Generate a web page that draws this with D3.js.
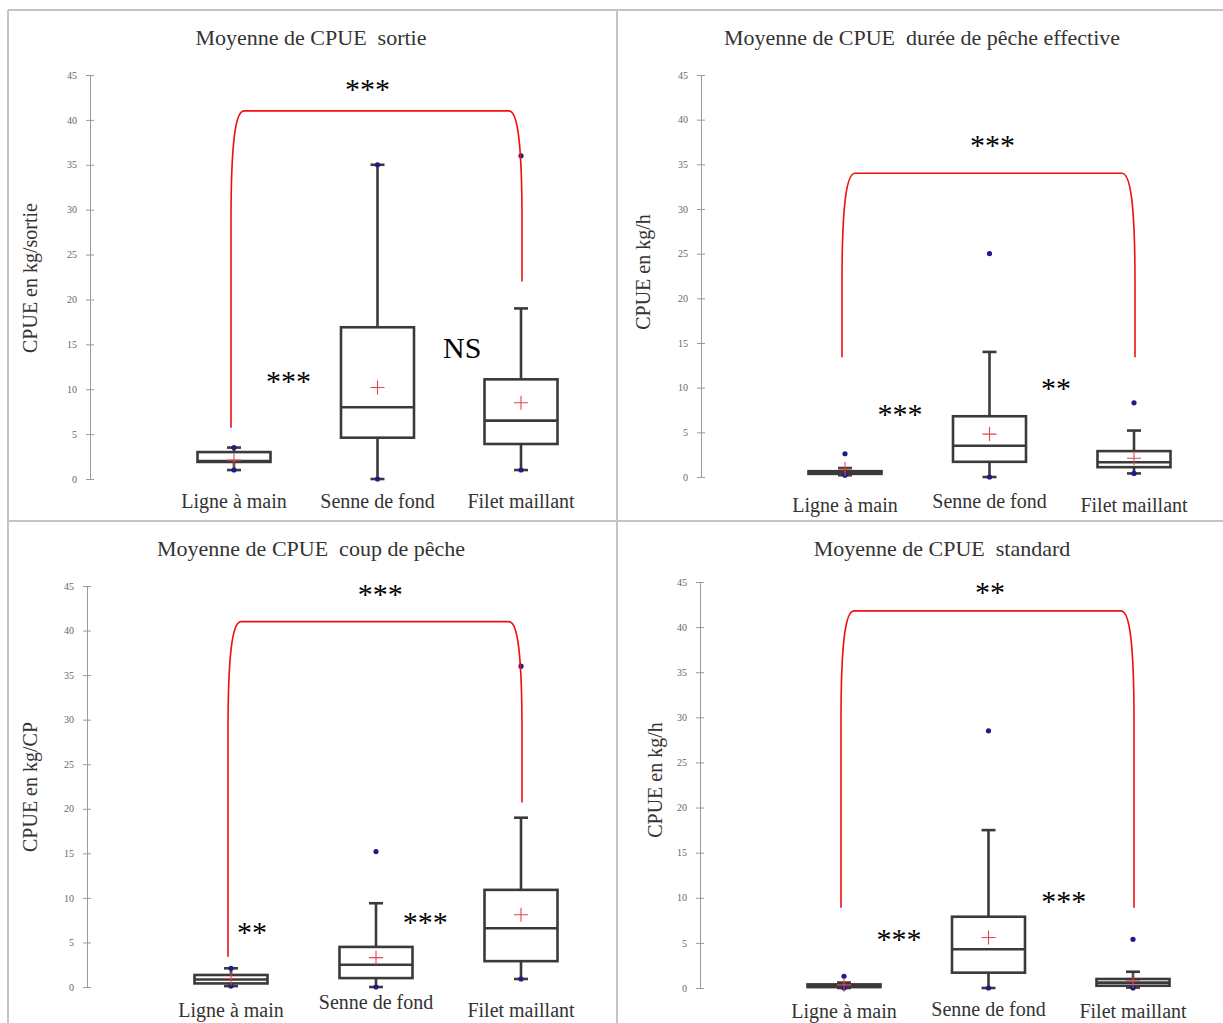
<!DOCTYPE html>
<html>
<head>
<meta charset="utf-8">
<script src="https://cdn.jsdelivr.net/npm/d3@7"></script>
<style>
  body { margin: 0; background: #fff; }
  svg text { font-family: "Liberation Serif", "Times New Roman", serif; }
</style>
</head>
<body>
<div id="chart"></div>
<script>
// Categories and labels
const categories = ["Ligne à main", "Senne de fond", "Filet maillant"];
const titles = [
  "Moyenne de CPUE  sortie",
  "Moyenne de CPUE  durée de pêche effective",
  "Moyenne de CPUE  coup de pêche",
  "Moyenne de CPUE  standard"
];
const yLabels = ["CPUE en kg/sortie", "CPUE en kg/h", "CPUE en kg/CP", "CPUE en kg/h"];
const yTicks = [0, 5, 10, 15, 20, 25, 30, 35, 40, 45];

// Box statistics per panel (one row per category)
const boxesSortie = [
  {min: 1.0, lo: 1.0, q1: 1.9, med: 2.0, q3: 3.0, hi: 3.5, max: 3.5, mean: 2.1},
  {min: 0.0, lo: 0.0, q1: 4.6, med: 8.0, q3: 16.9, hi: 35.0, max: 35.0, mean: 10.2},
  {min: 1.0, lo: 1.0, q1: 3.9, med: 6.5, q3: 11.1, hi: 19.0, max: 36.0, mean: 8.5}
];
const boxesDuree = [
  {min: 0.2, lo: 0.2, q1: 0.35, med: 0.5, q3: 0.65, hi: 1.0, max: 2.6, mean: 0.9},
  {min: 0.0, lo: 0.0, q1: 1.7, med: 3.5, q3: 6.8, hi: 14.0, max: 25.0, mean: 4.8},
  {min: 0.4, lo: 0.4, q1: 1.1, med: 1.65, q3: 2.9, hi: 5.2, max: 8.3, mean: 2.1}
];
const boxesCoup = [
  {min: 0.1, lo: 0.1, q1: 0.4, med: 0.85, q3: 1.35, hi: 2.1, max: 2.1, mean: 0.95},
  {min: 0.0, lo: 0.0, q1: 1.0, med: 2.5, q3: 4.5, hi: 9.4, max: 15.2, mean: 3.3},
  {min: 0.9, lo: 0.9, q1: 2.9, med: 6.6, q3: 10.9, hi: 19.0, max: 36.0, mean: 8.1}
];
const boxesStandard = [
  {min: 0.0, lo: 0.0, q1: 0.1, med: 0.25, q3: 0.4, hi: 0.6, max: 1.3, mean: 0.35},
  {min: 0.0, lo: 0.0, q1: 1.7, med: 4.3, q3: 7.9, hi: 17.5, max: 28.5, mean: 5.6},
  {min: 0.0, lo: 0.05, q1: 0.25, med: 0.6, q3: 1.0, hi: 1.8, max: 5.4, mean: 0.8}
];

// Red comparison brackets (values on the y scale)
const bracketTop = [41, 34, 41, 41.8];
const bracketLeftEnd = [5.7, 13.4, 3.4, 8.9];
const bracketRightEnd = [22, 13.4, 20.7, 8.9];

// Significance labels: at = position in category index units, v = y value
const starsSortie = [
  {text: "***", at: 0.93, v: 43.9},
  {text: "***", at: 0.38, v: 11.4},
  {text: "NS", at: 1.59, v: 14.7, big: true}
];
const starsDuree = [
  {text: "***", at: 1.02, v: 37.6},
  {text: "***", at: 0.38, v: 7.5},
  {text: "**", at: 1.46, v: 10.4}
];
const starsCoup = [
  {text: "***", at: 1.03, v: 44.6},
  {text: "**", at: 0.145, v: 6.6},
  {text: "***", at: 1.34, v: 7.7}
];
const starsStandard = [
  {text: "**", at: 1.01, v: 44.3},
  {text: "***", at: 0.38, v: 5.9},
  {text: "***", at: 1.52, v: 10.1}
];

const allBoxes = [boxesSortie, boxesDuree, boxesCoup, boxesStandard];
const allStars = [starsSortie, starsDuree, starsCoup, starsStandard];

// Panel layout in pixels
const layout = [
  {axisX: 90, yTop: 75, yBottom: 479, x0: 234, x2: 521, titleX: 311, titleY: 45, ylabX: 37, ylabY: 278, catY: [508, 508, 508]},
  {axisX: 701, yTop: 75, yBottom: 477, x0: 845, x2: 1134, titleX: 922, titleY: 45, ylabX: 650, ylabY: 272, catY: [512, 508, 512]},
  {axisX: 87, yTop: 586, yBottom: 987, x0: 231, x2: 521, titleX: 311, titleY: 556, ylabX: 37, ylabY: 787, catY: [1017, 1009, 1017]},
  {axisX: 700, yTop: 582, yBottom: 988, x0: 844, x2: 1133, titleX: 942, titleY: 556, ylabX: 662, ylabY: 780, catY: [1018, 1016, 1018]}
];

const width = 1223;
const height = 1023;
const BOX_W = 73;
const CAP_W = 14;
const BOX_COLOUR = "#3a3a3a";

const svg = d3.select("#chart").append("svg")
  .attr("width", width)
  .attr("height", height);

// Panel borders
const borderColour = "#c4c4c4";
[[8, 10, width, 10], [8, 10, 8, height], [617, 10, 617, height], [8, 521, width, 521]]
  .forEach(([x1, y1, x2, y2]) => {
    svg.append("line")
      .attr("x1", x1).attr("y1", y1).attr("x2", x2).attr("y2", y2)
      .attr("stroke", borderColour)
      .attr("stroke-width", 2);
  });

layout.forEach((L, i) => {
  const g = svg.append("g");
  const boxes = allBoxes[i];

  const y = d3.scaleLinear().domain([0, 45]).range([L.yBottom, L.yTop]);
  const x = d3.scalePoint().domain(categories).range([L.x0, L.x2]);
  const xi = d3.scaleLinear().domain([0, 2]).range([L.x0, L.x2]);

  // Title
  g.append("text")
    .attr("x", L.titleX)
    .attr("y", L.titleY)
    .attr("text-anchor", "middle")
    .attr("font-size", 22)
    .attr("fill", "#333")
    .style("white-space", "pre")
    .text(titles[i]);

  // Y axis
  const axis = g.append("g")
    .attr("transform", `translate(${L.axisX},0)`)
    .call(d3.axisLeft(y).tickValues(yTicks).tickSizeInner(4).tickSizeOuter(0).tickPadding(9));
  axis.select(".domain").attr("stroke", "#9a9a9a");
  axis.selectAll(".tick line").attr("x1", 4).attr("stroke", "#9a9a9a");
  axis.selectAll(".tick text")
    .attr("font-size", 10)
    .attr("fill", "#666")
    .style("font-family", "'Liberation Serif', serif");

  // Y label
  g.append("text")
    .attr("transform", `translate(${L.ylabX},${L.ylabY}) rotate(-90)`)
    .attr("text-anchor", "middle")
    .attr("font-size", 20)
    .attr("fill", "#333")
    .text(yLabels[i]);

  // Category labels
  g.selectAll(".cat")
    .data(categories)
    .enter().append("text")
    .attr("x", d => x(d))
    .attr("y", (d, k) => L.catY[k])
    .attr("text-anchor", "middle")
    .attr("font-size", 20)
    .attr("fill", "#333")
    .text(d => d);

  // Box plots
  const bp = g.selectAll(".box")
    .data(boxes)
    .enter().append("g")
    .attr("transform", (d, k) => `translate(${x(categories[k])},0)`);

  // whiskers
  bp.append("line")
    .attr("y1", d => y(d.q3)).attr("y2", d => y(d.hi))
    .attr("stroke", BOX_COLOUR).attr("stroke-width", 2.6);
  bp.append("line")
    .attr("y1", d => y(d.q1)).attr("y2", d => y(d.lo))
    .attr("stroke", BOX_COLOUR).attr("stroke-width", 2.6);
  // caps
  bp.append("line")
    .attr("x1", -CAP_W / 2).attr("x2", CAP_W / 2)
    .attr("y1", d => y(d.hi)).attr("y2", d => y(d.hi))
    .attr("stroke", BOX_COLOUR).attr("stroke-width", 2.6);
  bp.append("line")
    .attr("x1", -CAP_W / 2).attr("x2", CAP_W / 2)
    .attr("y1", d => y(d.lo)).attr("y2", d => y(d.lo))
    .attr("stroke", BOX_COLOUR).attr("stroke-width", 2.6);
  // box
  bp.append("rect")
    .attr("x", -BOX_W / 2)
    .attr("width", BOX_W)
    .attr("y", d => y(d.q3))
    .attr("height", d => Math.max(1, y(d.q1) - y(d.q3)))
    .attr("fill", "none")
    .attr("stroke", BOX_COLOUR).attr("stroke-width", 2.6);
  // median
  bp.append("line")
    .attr("x1", -BOX_W / 2).attr("x2", BOX_W / 2)
    .attr("y1", d => y(d.med)).attr("y2", d => y(d.med))
    .attr("stroke", BOX_COLOUR).attr("stroke-width", 2.6);
  // min / max points
  bp.append("circle")
    .attr("r", 2.6)
    .attr("cy", d => y(d.min))
    .attr("fill", "#1c1c8a");
  bp.append("circle")
    .attr("r", 2.6)
    .attr("cy", d => y(d.max))
    .attr("fill", "#1c1c8a");
  // mean cross
  bp.append("path")
    .attr("d", d => `M-7,${y(d.mean)}H7M0,${y(d.mean) - 7}V${y(d.mean) + 7}`)
    .attr("stroke", "#e0474c")
    .attr("stroke-width", 1.1)
    .attr("fill", "none");

  // Red bracket between first and last category
  const lx = x(categories[0]) - 3;
  const rx = x(categories[2]) + 1;
  const ty = y(bracketTop[i]);
  const path = d3.path();
  path.moveTo(lx, y(bracketLeftEnd[i]));
  path.lineTo(lx, ty + 110);
  path.bezierCurveTo(lx, ty + 35, lx + 4, ty, lx + 13, ty);
  path.lineTo(rx - 13, ty);
  path.bezierCurveTo(rx - 4, ty, rx, ty + 35, rx, ty + 110);
  path.lineTo(rx, y(bracketRightEnd[i]));
  g.append("path")
    .attr("d", path.toString())
    .attr("fill", "none")
    .attr("stroke", "#f01010")
    .attr("stroke-width", 1.6);

  // Significance labels
  g.selectAll(".star")
    .data(allStars[i])
    .enter().append("text")
    .attr("x", d => xi(d.at))
    .attr("y", d => y(d.v) + (d.big ? 11 : 14))
    .attr("text-anchor", "middle")
    .attr("font-size", 30)
    .attr("fill", "#000")
    .text(d => d.text);
});
</script>
</body>
</html>
